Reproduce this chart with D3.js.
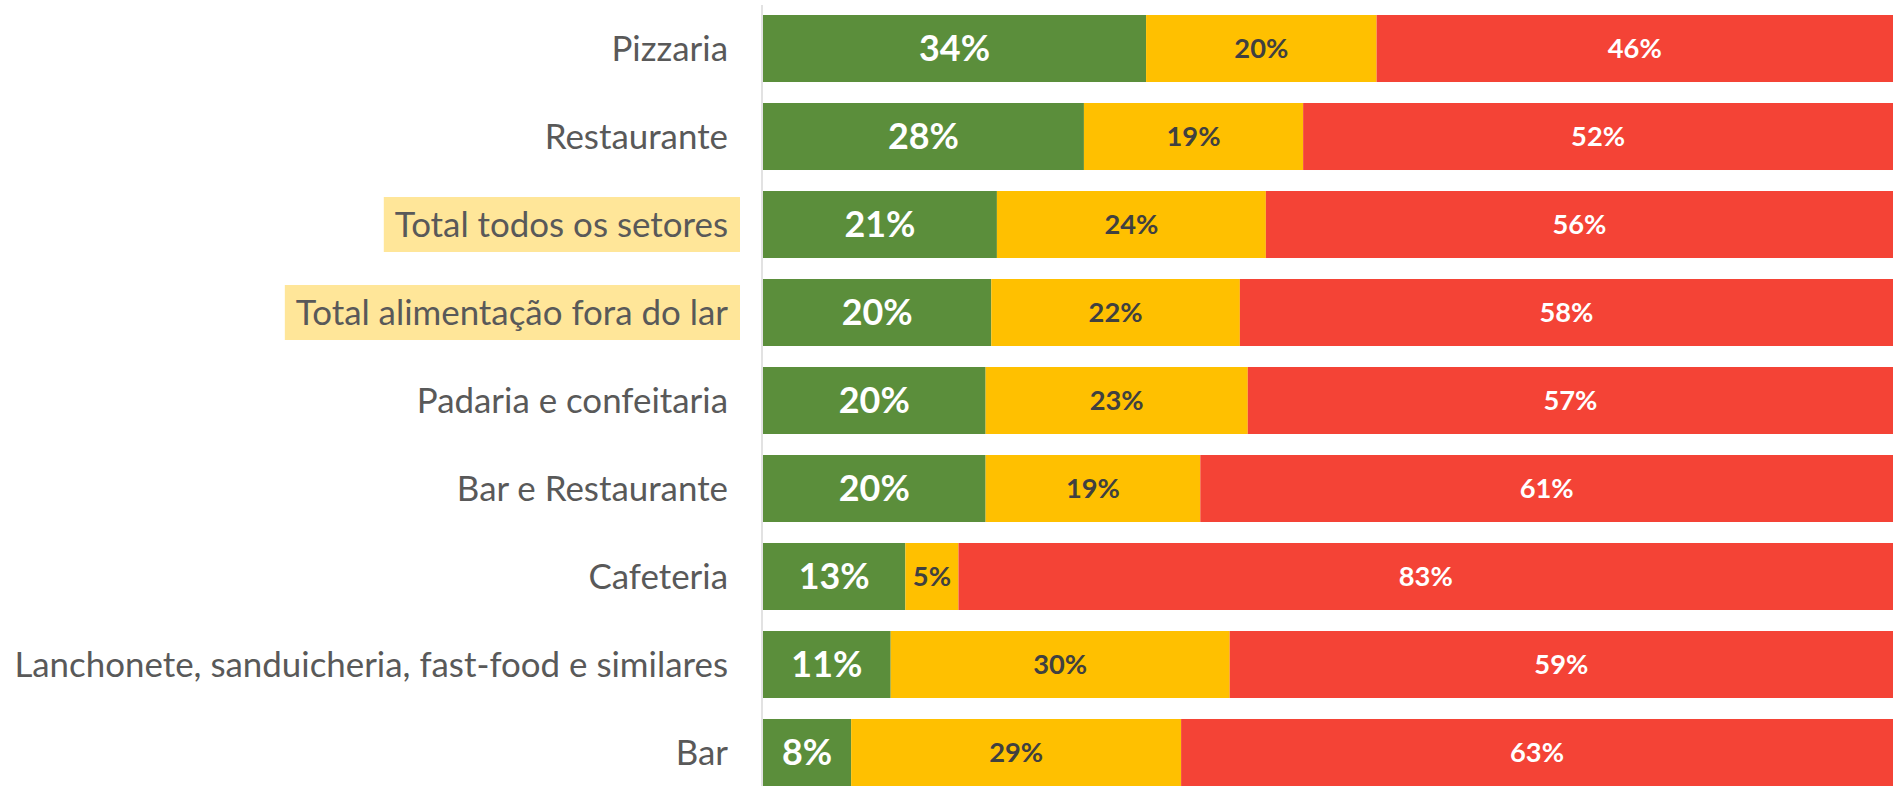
<!DOCTYPE html>
<html>
<head>
<meta charset="utf-8">
<script src="https://cdn.jsdelivr.net/npm/d3@7"></script>
<style>
  html, body { margin: 0; padding: 0; background: #fff; overflow: hidden; }
  svg { display: block; }
</style>
</head>
<body>
<svg id="chart" width="1895" height="786"></svg>
<script>
// ---- Data ----
const categories = [
  "Pizzaria",
  "Restaurante",
  "Total todos os setores",
  "Total alimentação fora do lar",
  "Padaria e confeitaria",
  "Bar e Restaurante",
  "Cafeteria",
  "Lanchonete, sanduicheria, fast-food e similares",
  "Bar"
];
const greenValues  = [33.9, 28.4, 20.7, 20.2, 19.7, 19.7, 12.6, 11.3, 7.8];
const yellowValues = [20.4, 19.4, 23.8, 22.0, 23.2, 19.0, 4.7, 30.0, 29.2];
const redValues    = [45.7, 52.2, 55.5, 57.8, 57.1, 61.3, 82.7, 58.7, 63.0];
const highlighted  = ["Total todos os setores", "Total alimentação fora do lar"];
const seriesNames  = ["green", "yellow", "red"];

// ---- Styles ----
const colors = { green: "#5B8E3B", yellow: "#FFC000", red: "#F44336" };
const labelColors = { green: "#FFFFFF", yellow: "#404040", red: "#FFFFFF" };
const FONT = "Lato, 'Open Sans', sans-serif";

const svg = d3.select("#chart");
const W = 1895, H = 786;

const rows = categories.map((c, i) => ({
  category: c, green: greenValues[i], yellow: yellowValues[i], red: redValues[i]
}));
const stack = d3.stack().keys(seriesNames)(rows);

const x = d3.scaleLinear().domain([0, 100]).range([763, 1893]);
const y = d3.scaleBand().domain(categories).range([15, 786])
  .paddingInner(0.2386).paddingOuter(0);

// helper: fit font size to a target width
function fitSize(text, weight, base, target) {
  const t = svg.append("text").attr("font-family", FONT).attr("font-weight", weight)
    .attr("font-size", base).text(text);
  const w = t.node().getComputedTextLength();
  t.remove();
  return base * target / w;
}
const catSize = fitSize("Lanchonete, sanduicheria, fast-food e similares", 400, 30, 714);
const bigSize = fitSize("34%", 700, 36, 71);
const smallSize = fitSize("46%", 700, 28, 54);

// ---- Category labels (with highlight boxes) ----
const labelRight = 728;
const catG = svg.append("g");
categories.forEach(c => {
  const cy = y(c) + y.bandwidth() / 2;
  const g = catG.append("g");
  const t = g.append("text")
    .attr("x", labelRight).attr("y", cy)
    .attr("text-anchor", "end").attr("dy", "0.35em")
    .attr("font-family", FONT).attr("font-size", catSize)
    .attr("fill", "#595959").text(c);
  if (highlighted.includes(c)) {
    const w = t.node().getComputedTextLength();
    g.insert("rect", "text")
      .attr("x", labelRight - w - 11).attr("y", cy - 27.5)
      .attr("width", w + 23).attr("height", 55)
      .attr("fill", "#FFE699");
  }
});

// ---- Bars ----
const layers = svg.append("g").selectAll("g").data(stack).join("g")
  .attr("fill", d => colors[d.key]);
layers.selectAll("rect").data(d => d.map(p => ({ p, key: d.key }))).join("rect")
  .attr("x", d => x(d.p[0]))
  .attr("y", d => y(d.p.data.category))
  .attr("width", d => x(d.p[1]) - x(d.p[0]))
  .attr("height", y.bandwidth());

// ---- Value labels ----
const fmt = v => Math.round(v) + "%";
stack.forEach(layer => {
  svg.append("g").selectAll("text").data(layer).join("text")
    .attr("x", p => (x(p[0]) + x(p[1])) / 2)
    .attr("y", p => y(p.data.category) + y.bandwidth() / 2)
    .attr("dy", "0.35em")
    .attr("text-anchor", "middle")
    .attr("font-family", FONT).attr("font-weight", 700)
    .attr("font-size", layer.key === "green" ? bigSize : smallSize)
    .attr("fill", labelColors[layer.key])
    .text(p => fmt(p[1] - p[0]));
});

// ---- Vertical axis line ----
svg.append("line")
  .attr("x1", 762).attr("x2", 762).attr("y1", 5).attr("y2", H)
  .attr("stroke", "#D9D9D9").attr("stroke-width", 1.5);
</script>
</body>
</html>
